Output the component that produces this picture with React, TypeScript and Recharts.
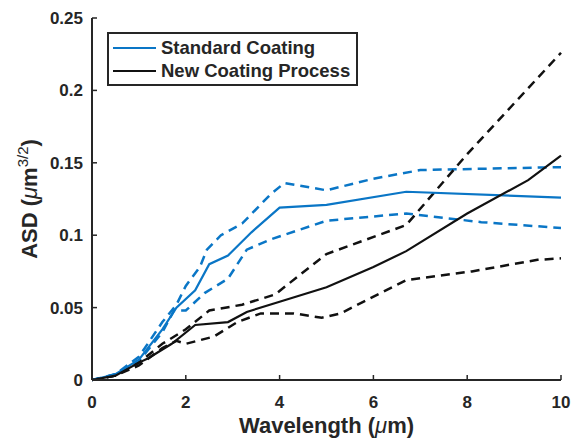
import { LineChart, Line, XAxis, YAxis, Legend, Label } from "recharts";

const BLUE = "#0a76c6";
const BLACK = "#111111";
const AXIS = "#262626";
const FONT = '"Liberation Sans", Arial, sans-serif';

// Standard coating: mean and +/- bounds
const stdMeanX = [0, 0.5, 1, 1.5, 1.8, 2.2, 2.5, 2.9, 3.4, 4, 5, 6.7, 10];
const stdMeanY = [0, 0.004, 0.014, 0.035, 0.05, 0.062, 0.08, 0.086, 0.102, 0.119, 0.121, 0.13, 0.126];

const stdUpperX = [0, 0.5, 1, 1.5, 1.8, 2, 2.3, 2.45, 2.75, 3.2, 3.8, 4.1, 5, 6, 7, 10];
const stdUpperY = [0, 0.004, 0.016, 0.04, 0.052, 0.065, 0.078, 0.09, 0.1, 0.108, 0.128, 0.136, 0.131, 0.139, 0.145, 0.147];

const stdLowerX = [0, 0.5, 1, 1.5, 1.75, 2, 2.4, 2.9, 3.3, 3.8, 5, 6.7, 8.3, 10];
const stdLowerY = [0, 0.004, 0.013, 0.033, 0.048, 0.048, 0.06, 0.07, 0.09, 0.097, 0.11, 0.115, 0.109, 0.105];

// New coating process: mean and +/- bounds
const newMeanX = [0, 0.5, 1, 1.2, 1.7, 2.2, 2.9, 3.3, 4, 5, 6, 6.7, 8, 9.3, 10];
const newMeanY = [0, 0.003, 0.012, 0.015, 0.025, 0.038, 0.04, 0.047, 0.054, 0.064, 0.078, 0.089, 0.115, 0.138, 0.155];

const newUpperX = [0, 0.5, 1, 1.5, 2, 2.5, 3.2, 3.9, 5, 6.7, 8, 10];
const newUpperY = [0, 0.003, 0.012, 0.025, 0.035, 0.048, 0.052, 0.059, 0.087, 0.107, 0.156, 0.226];

const newLowerX = [0, 0.5, 1, 1.5, 1.8, 2, 2.6, 3.1, 3.6, 4.3, 4.9, 5.3, 6.7, 8.1, 9.5, 10];
const newLowerY = [0, 0.003, 0.01, 0.022, 0.027, 0.025, 0.03, 0.04, 0.046, 0.046, 0.043, 0.046, 0.069, 0.075, 0.083, 0.084];

const xTicks = [0, 2, 4, 6, 8, 10];
const yTicks = [0, 0.05, 0.1, 0.15, 0.2, 0.25];

const legendItems = [
  { name: "Standard Coating", color: BLUE },
  { name: "New Coating Process", color: BLACK },
];

const zip = (xs: number[], ys: number[]) => xs.map((x, i) => ({ x, y: ys[i] }));

const tickStyle = { fill: AXIS, fontSize: 17, fontWeight: 700, fontFamily: FONT };

function XTitle(props: any) {
  const { x, y, width } = props.viewBox;
  return (
    <text
      x={x + width / 2}
      y={y + 53}
      textAnchor="middle"
      fill={AXIS}
      fontFamily={FONT}
      fontSize={22}
      fontWeight={700}
    >
      Wavelength (
      <tspan fontStyle="italic" fontWeight={400}>
        μ
      </tspan>
      m)
    </text>
  );
}

function YTitle(props: any) {
  const { y, height } = props.viewBox;
  const cx = 37;
  const cy = y + height / 2;
  return (
    <text
      x={cx}
      y={cy}
      textAnchor="middle"
      transform={`rotate(-90, ${cx}, ${cy})`}
      fill={AXIS}
      fontFamily={FONT}
      fontSize={22}
      fontWeight={700}
    >
      ASD (
      <tspan fontStyle="italic" fontWeight={400}>
        μ
      </tspan>
      m
      <tspan dy={-9} fontSize={15} fontWeight={400}>
        3/2
      </tspan>
      <tspan dy={9}>)</tspan>
    </text>
  );
}

function renderLegend() {
  return (
    <div
      style={{
        border: `2px solid ${AXIS}`,
        background: "#fff",
        padding: "2px 6px 2px 4px",
        fontFamily: FONT,
        fontWeight: 700,
        fontSize: 18.5,
        color: AXIS,
        lineHeight: "23px",
      }}
    >
      {legendItems.map((item) => (
        <div key={item.name} style={{ display: "flex", alignItems: "center" }}>
          <span
            style={{
              display: "inline-block",
              width: 43,
              height: 2,
              background: item.color,
              marginRight: 5,
            }}
          />
          {item.name}
        </div>
      ))}
    </div>
  );
}

export default function App() {
  return (
    <div style={{ position: "absolute", left: 0, top: 0, width: 573, height: 443, background: "#fff" }}>
      <LineChart width={573} height={443} margin={{ top: 18, right: 12, bottom: 0, left: 0 }}>
        <XAxis
          dataKey="x"
          type="number"
          domain={[0, 10]}
          ticks={xTicks}
          allowDuplicatedCategory={false}
          height={63}
          tick={tickStyle}
          tickSize={-5}
          tickMargin={21}
          axisLine={{ stroke: AXIS, strokeWidth: 2 }}
          tickLine={{ stroke: AXIS, strokeWidth: 1.5 }}
        >
          <Label content={XTitle} />
        </XAxis>
        <XAxis
          xAxisId="top"
          orientation="top"
          type="number"
          domain={[0, 10]}
          ticks={xTicks}
          height={0}
          mirror
          tick={false}
          tickSize={5}
          axisLine={{ stroke: AXIS, strokeWidth: 2 }}
          tickLine={{ stroke: AXIS, strokeWidth: 1.5 }}
        />
        <YAxis
          type="number"
          domain={[0, 0.25]}
          ticks={yTicks}
          width={92}
          tick={tickStyle}
          tickSize={-5}
          tickMargin={14}
          axisLine={{ stroke: AXIS, strokeWidth: 2 }}
          tickLine={{ stroke: AXIS, strokeWidth: 1.5 }}
        >
          <Label content={YTitle} />
        </YAxis>
        <YAxis
          yAxisId="right"
          orientation="right"
          type="number"
          domain={[0, 0.25]}
          ticks={yTicks}
          width={0}
          mirror
          tick={false}
          tickSize={5}
          axisLine={{ stroke: AXIS, strokeWidth: 2 }}
          tickLine={{ stroke: AXIS, strokeWidth: 1.5 }}
        />
        <Legend
          layout="vertical"
          align="center"
          verticalAlign="middle"
          wrapperStyle={{ left: 107, top: 32, width: "auto", height: "auto" }}
          content={renderLegend}
        />
        <Line data={zip(stdUpperX, stdUpperY)} dataKey="y" stroke={BLUE} strokeWidth={2.5} strokeDasharray="9 6" dot={false} isAnimationActive={false} legendType="none" />
        <Line data={zip(stdLowerX, stdLowerY)} dataKey="y" stroke={BLUE} strokeWidth={2.5} strokeDasharray="9 6" dot={false} isAnimationActive={false} legendType="none" />
        <Line data={zip(newUpperX, newUpperY)} dataKey="y" stroke={BLACK} strokeWidth={2.5} strokeDasharray="9 6" dot={false} isAnimationActive={false} legendType="none" />
        <Line data={zip(newLowerX, newLowerY)} dataKey="y" stroke={BLACK} strokeWidth={2.5} strokeDasharray="9 6" dot={false} isAnimationActive={false} legendType="none" />
        <Line data={zip(stdMeanX, stdMeanY)} dataKey="y" name="Standard Coating" stroke={BLUE} strokeWidth={2.2} dot={false} isAnimationActive={false} />
        <Line data={zip(newMeanX, newMeanY)} dataKey="y" name="New Coating Process" stroke={BLACK} strokeWidth={2.2} dot={false} isAnimationActive={false} />
      </LineChart>
    </div>
  );
}
